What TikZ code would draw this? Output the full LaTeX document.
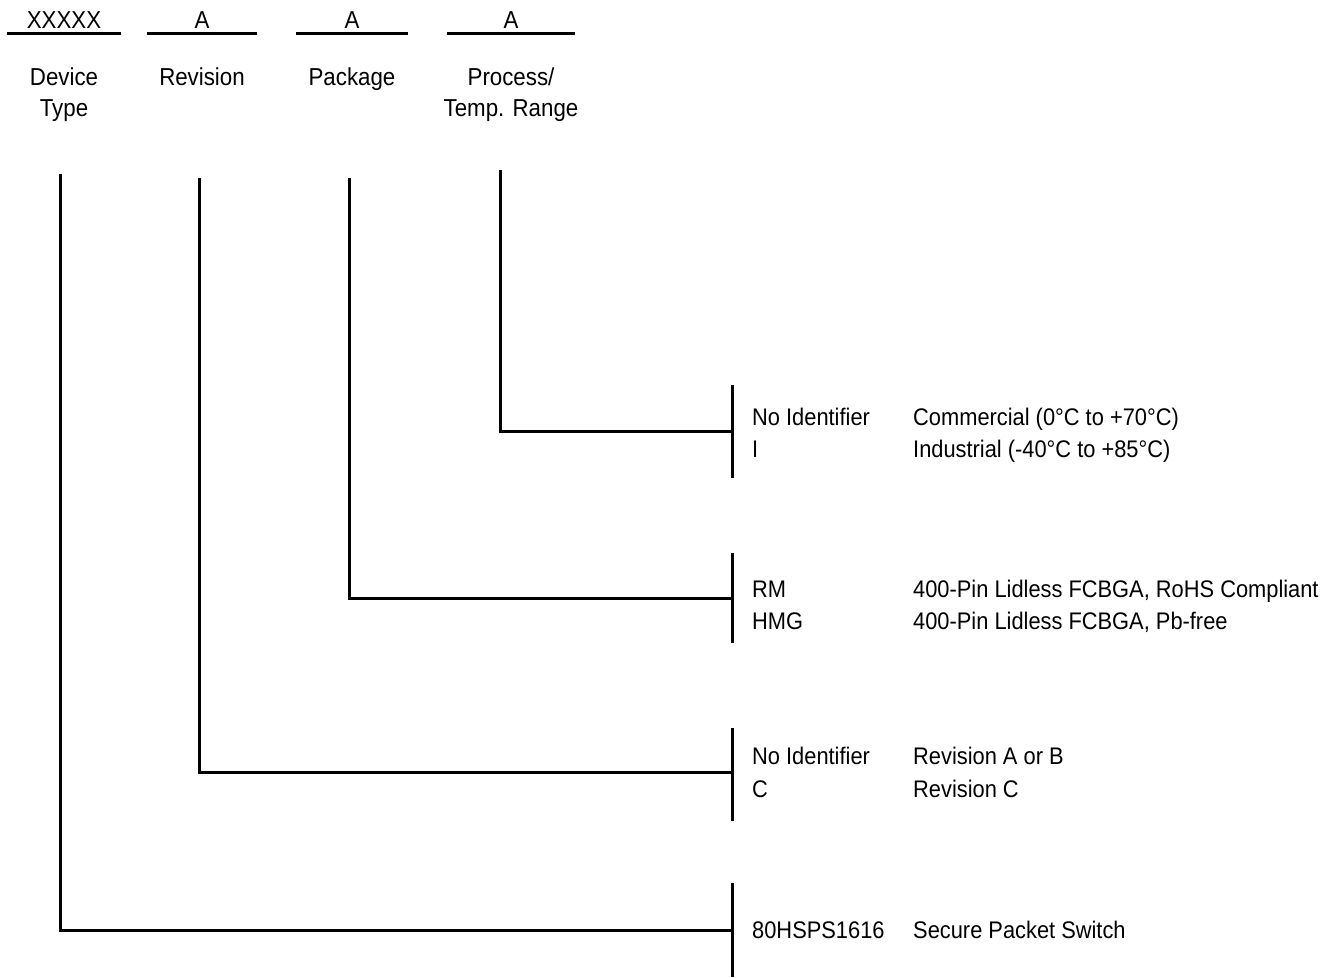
\documentclass[tikz,border=0pt]{standalone}
\usepackage{fontspec}
\setmainfont{Liberation Sans}[FakeStretch=0.91]
\begin{document}
\begin{tikzpicture}[x=1pt,y=-1pt,
  lbl/.style={inner sep=0pt,anchor=base,font=\fontsize{24.5}{32}\selectfont},
  txt/.style={inner sep=0pt,anchor=base west,font=\fontsize{24}{32}\selectfont},
  rule/.style={line width=3pt},
  conn/.style={line width=3pt},
  bar/.style={line width=3pt}]
\useasboundingbox (0,0) rectangle (1333,977);
% header codes
\node[lbl] (c1) at (64,28) {XXXXX};
\node[lbl] (c2) at (202,28) {A};
\node[lbl] (c3) at (352,28) {A};
\node[lbl] (c4) at (511,28) {A};
\coordinate (u1a) at (7,33);   \coordinate (u1b) at (121,33);
\coordinate (u2a) at (147,33); \coordinate (u2b) at (257,33);
\coordinate (u3a) at (296,33); \coordinate (u3b) at (408,33);
\coordinate (u4a) at (447,33); \coordinate (u4b) at (575,33);
\draw[rule] (u1a) -- (u1b);
\draw[rule] (u2a) -- (u2b);
\draw[rule] (u3a) -- (u3b);
\draw[rule] (u4a) -- (u4b);
% header labels
\node[lbl] (h1a) at (64,85) {Device};
\node[lbl] (h1b) at (64,116) {Type};
\node[lbl] (h2) at (202,85) {Revision};
\node[lbl] (h3) at (352,85) {Package};
\node[lbl] (h4a) at (511,85) {Process/};
\node[lbl] (h4b) at (511,116) {Temp. Range};
% connector tops
\coordinate (t1) at (60,174);
\coordinate (t2) at (199,178);
\coordinate (t3) at (349,178);
\coordinate (t4) at (500,170);
% bars
\coordinate (b4a) at (732,385); \coordinate (b4b) at (732,478); \coordinate (j4) at (732,431);
\coordinate (b3a) at (732,553); \coordinate (b3b) at (732,643); \coordinate (j3) at (732,598);
\coordinate (b2a) at (732,728); \coordinate (b2b) at (732,821); \coordinate (j2) at (732,772);
\coordinate (b1a) at (732,883); \coordinate (b1b) at (732,977); \coordinate (j1) at (732,930);
\draw[bar] (b4a) -- (b4b);
\draw[bar] (b3a) -- (b3b);
\draw[bar] (b2a) -- (b2b);
\draw[bar] (b1a) -- (b1b);
\draw[conn] (t4) |- (j4);
\draw[conn] (t3) |- (j3);
\draw[conn] (t2) |- (j2);
\draw[conn] (t1) |- (j1);
% option texts
\node[txt] (p1k) at (752,425) {No Identifier};
\node[txt] (p1v) at (913,425) {Commercial (0°C to +70°C)};
\node[txt] (p2k) at (752,457) {I};
\node[txt] (p2v) at (913,457) {Industrial (-40°C to +85°C)};
\node[txt] (k1k) at (752,597) {RM};
\node[txt] (k1v) at (913,597) {400-Pin Lidless FCBGA, RoHS Compliant};
\node[txt] (k2k) at (752,629) {HMG};
\node[txt] (k2v) at (913,629) {400-Pin Lidless FCBGA, Pb-free};
\node[txt] (r1k) at (752,764) {No Identifier};
\node[txt] (r1v) at (913,764) {Revision A or B};
\node[txt] (r2k) at (752,797) {C};
\node[txt] (r2v) at (913,797) {Revision C};
\node[txt] (d1k) at (752,938) {80HSPS1616};
\node[txt] (d1v) at (913,938) {Secure Packet Switch};
\end{tikzpicture}
\end{document}
